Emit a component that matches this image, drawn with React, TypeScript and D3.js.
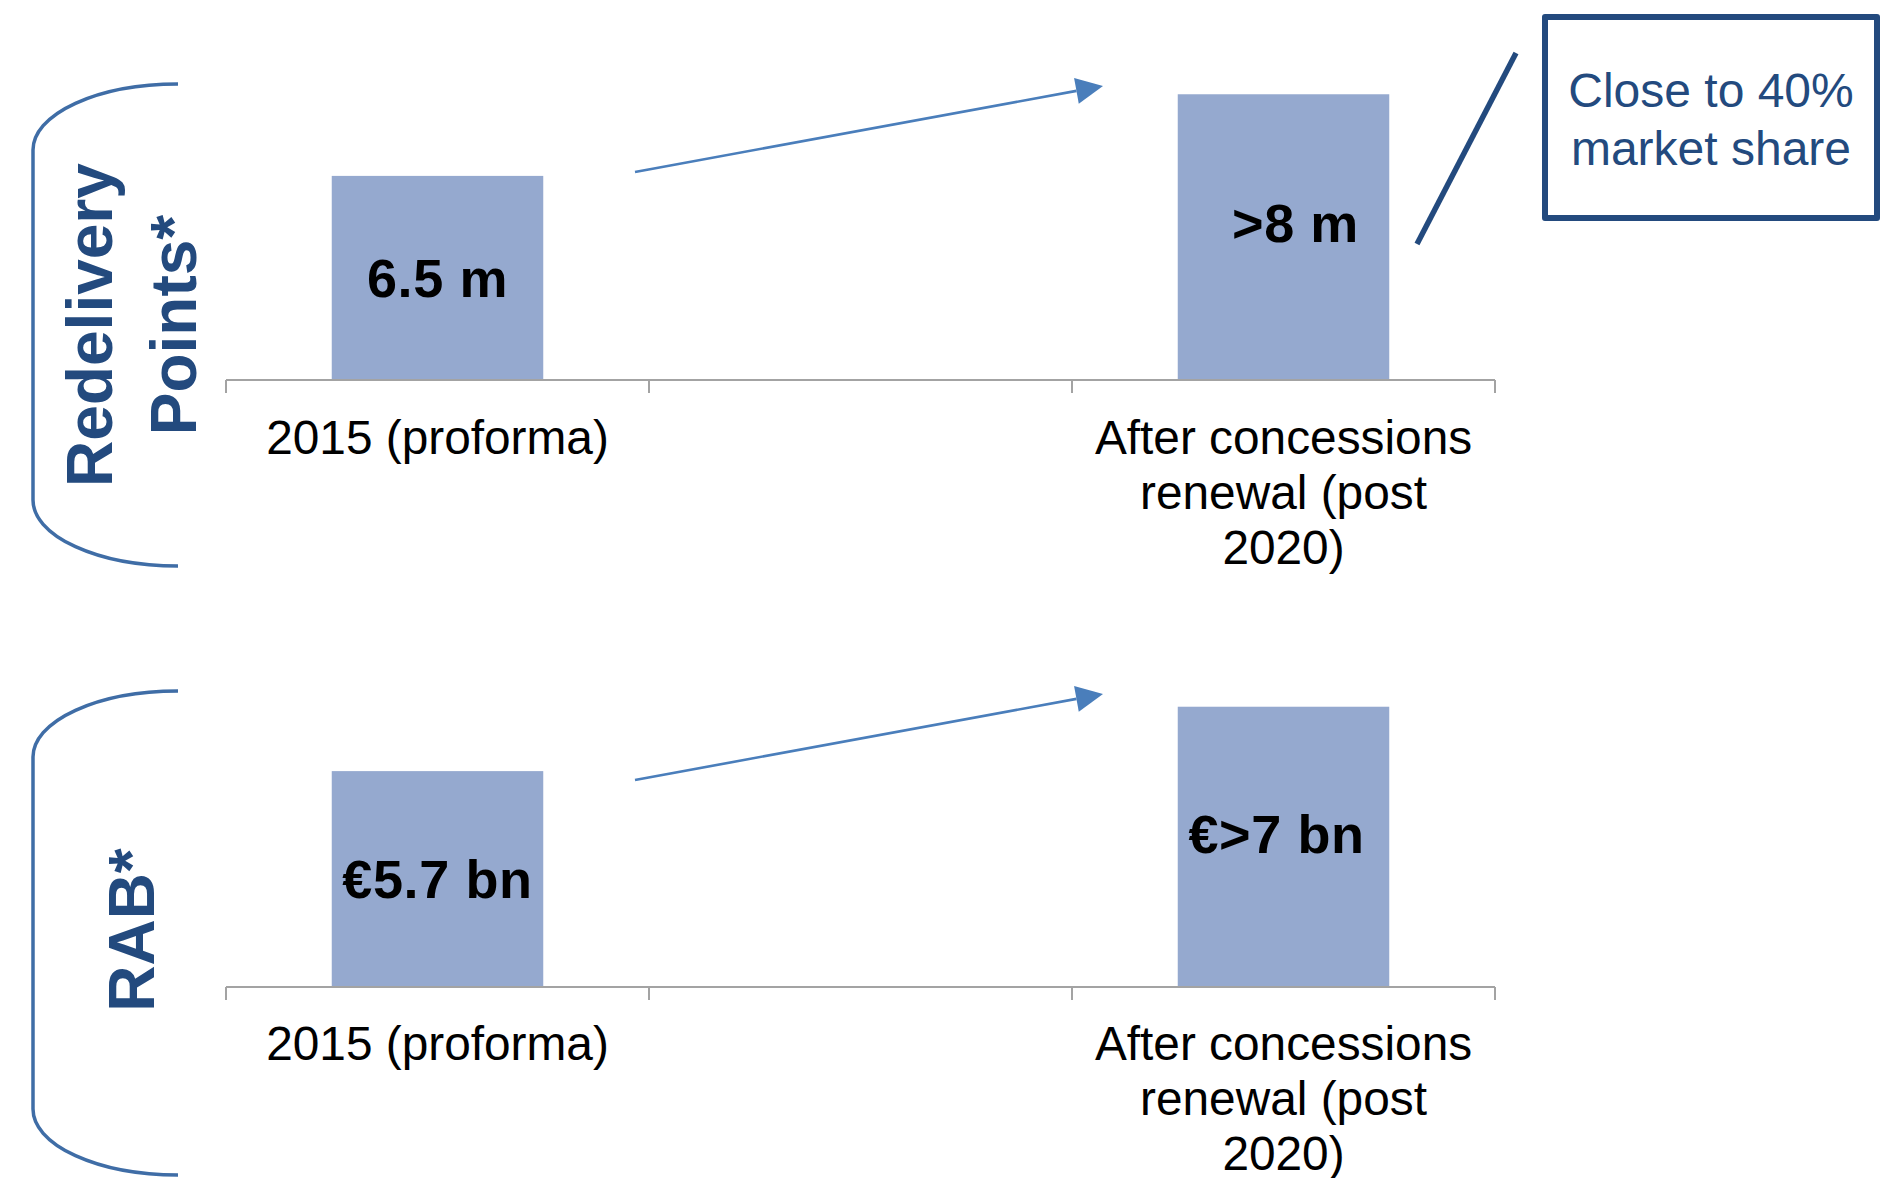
import React from "react";
import * as d3 from "d3";

// Category slots along the shared x axis (middle slot is left empty)
const slots = ["2015", "gap", "post2020"];
const slotLabels: string[][] = [
  ["2015 (proforma)"],
  [],
  ["After concessions", "renewal (post", "2020)"],
];

// Redelivery points, millions
const redeliveryPoints: (number | null)[] = [6.5, null, 9.1];
const redeliveryText = ["6.5 m", "", ">8 m"];

// Regulatory asset base, € bn
const rabBn: (number | null)[] = [5.7, null, 7.4];
const rabText = ["€5.7 bn", "", "€>7 bn"];

const redeliveryTitle = ["Redelivery", "Points*"];
const rabTitle = ["RAB*"];
const calloutLines = ["Close to 40%", "market share"];

const W = 1904;
const H = 1178;
const FONT = "'Liberation Sans', Arial, Helvetica, sans-serif";
const BAR = "#95A9CF";
const AXIS = "#A3A3A3";
const DARK_BLUE = "#234A7E";
const BRACKET = "#3F6DA6";
const ARROW = "#4A7EBB";

const x = d3
  .scaleBand<string>()
  .domain(slots)
  .range([226, 1495])
  .paddingInner(0.5)
  .paddingOuter(0.25);

type Panel = {
  values: (number | null)[];
  texts: string[];
  y: d3.ScaleLinear<number, number>;
  shift: { dx: number; dy: number }[];
  title: string[];
  titleX: number[];
  titleY: number;
  bracket: [number, number];
  arrow: [[number, number], [number, number]];
  labelY0: number;
};

const panels: Panel[] = [
  {
    values: redeliveryPoints,
    texts: redeliveryText,
    y: d3.scaleLinear().domain([0, 10]).range([380, 66]),
    shift: [{ dx: 0, dy: 0 }, { dx: 0, dy: 0 }, { dx: 12, dy: -14 }],
    title: redeliveryTitle,
    titleX: [112, 196],
    titleY: 325,
    bracket: [84, 566],
    arrow: [[635, 172], [1103, 86]],
    labelY0: 454,
  },
  {
    values: rabBn,
    texts: rabText,
    y: d3.scaleLinear().domain([0, 8]).range([987, 684]),
    shift: [{ dx: 0, dy: 0 }, { dx: 0, dy: 0 }, { dx: -7, dy: -13 }],
    title: rabTitle,
    titleX: [154],
    titleY: 930,
    bracket: [691, 1175],
    arrow: [[635, 780], [1103, 694]],
    labelY0: 1060,
  },
];

function bracketPath(top: number, bottom: number) {
  const xr = 178;
  const xl = 33;
  const ry = 66;
  return `M${xr},${top} A${xr - xl},${ry} 0 0 0 ${xl},${top + ry} L${xl},${bottom - ry} A${xr - xl},${ry} 0 0 0 ${xr},${bottom}`;
}

function Arrow({ from, to }: { from: [number, number]; to: [number, number] }) {
  const ang = Math.atan2(to[1] - from[1], to[0] - from[0]);
  const len = 27;
  const half = 13;
  const bx = to[0] - len * Math.cos(ang);
  const by = to[1] - len * Math.sin(ang);
  const px = -Math.sin(ang) * half;
  const py = Math.cos(ang) * half;
  const head = [
    [to[0], to[1]],
    [bx + px, by + py],
    [bx - px, by - py],
  ];
  return (
    <g>
      <line x1={from[0]} y1={from[1]} x2={bx} y2={by} stroke={ARROW} strokeWidth={2.6} />
      <polygon points={head.map((p) => p.join(",")).join(" ")} fill={ARROW} />
    </g>
  );
}

function PanelView({ p }: { p: Panel }) {
  const base = p.y(0);
  const step = x.step();
  const r0 = x.range()[0];
  const ticks = d3.range(slots.length + 1).map((i) => r0 + i * step);
  return (
    <g>
      {/* bars */}
      {slots.map((s, i) =>
        p.values[i] == null ? null : (
          <rect
            key={s}
            x={x(s)}
            y={p.y(p.values[i] as number)}
            width={x.bandwidth()}
            height={base - p.y(p.values[i] as number)}
            fill={BAR}
          />
        )
      )}
      {/* axis */}
      <line x1={ticks[0]} x2={ticks[ticks.length - 1]} y1={base} y2={base} stroke={AXIS} strokeWidth={2} />
      {ticks.map((t, i) => (
        <line key={i} x1={t} x2={t} y1={base} y2={base + 13} stroke={AXIS} strokeWidth={2} />
      ))}
      {/* value labels */}
      {slots.map((s, i) => {
        const v = p.values[i];
        if (v == null) return null;
        const cx = (x(s) as number) + x.bandwidth() / 2 + p.shift[i].dx;
        const cy = (p.y(v) + base) / 2 + p.shift[i].dy;
        return (
          <text
            key={s}
            x={cx}
            y={cy + 19}
            textAnchor="middle"
            fontFamily={FONT}
            fontWeight="bold"
            fontSize={54}
            letterSpacing={0.6}
            fill="#000"
          >
            {p.texts[i]}
          </text>
        );
      })}
      {/* category labels */}
      {slots.map((s, i) => (
        <text key={s} textAnchor="middle" fontFamily={FONT} fontSize={47.8} fill="#000">
          {slotLabels[i].map((line, j) => (
            <tspan key={j} x={(x(s) as number) + x.bandwidth() / 2} y={p.labelY0 + j * 55}>
              {line}
            </tspan>
          ))}
        </text>
      ))}
      {/* bracket and title */}
      <path d={bracketPath(p.bracket[0], p.bracket[1])} fill="none" stroke={BRACKET} strokeWidth={3.5} />
      {p.title.map((t, j) => (
        <text
          key={t}
          transform={`translate(${p.titleX[j]},${p.titleY}) rotate(-90)`}
          textAnchor="middle"
          fontFamily={FONT}
          fontWeight="bold"
          fontSize={64}
          fill={DARK_BLUE}
        >
          {t}
        </text>
      ))}
      <Arrow from={p.arrow[0]} to={p.arrow[1]} />
    </g>
  );
}

export default function App() {
  return (
    <svg
      width={W}
      height={H}
      viewBox={`0 0 ${W} ${H}`}
      style={{ position: "absolute", left: 0, top: 0, background: "#fff" }}
    >
      <rect width={W} height={H} fill="#fff" />
      {panels.map((p, i) => (
        <PanelView key={i} p={p} />
      ))}
      {/* market share callout */}
      <line x1={1417} y1={244} x2={1516} y2={53} stroke={DARK_BLUE} strokeWidth={5.5} />
      <rect x={1545} y={17} width={332} height={201} fill="#fff" stroke={DARK_BLUE} strokeWidth={6} strokeLinejoin="round" />
      {calloutLines.map((t, j) => (
        <text
          key={t}
          x={1711}
          y={107 + j * 58}
          textAnchor="middle"
          fontFamily={FONT}
          fontSize={48}
          fill={DARK_BLUE}
        >
          {t}
        </text>
      ))}
    </svg>
  );
}
